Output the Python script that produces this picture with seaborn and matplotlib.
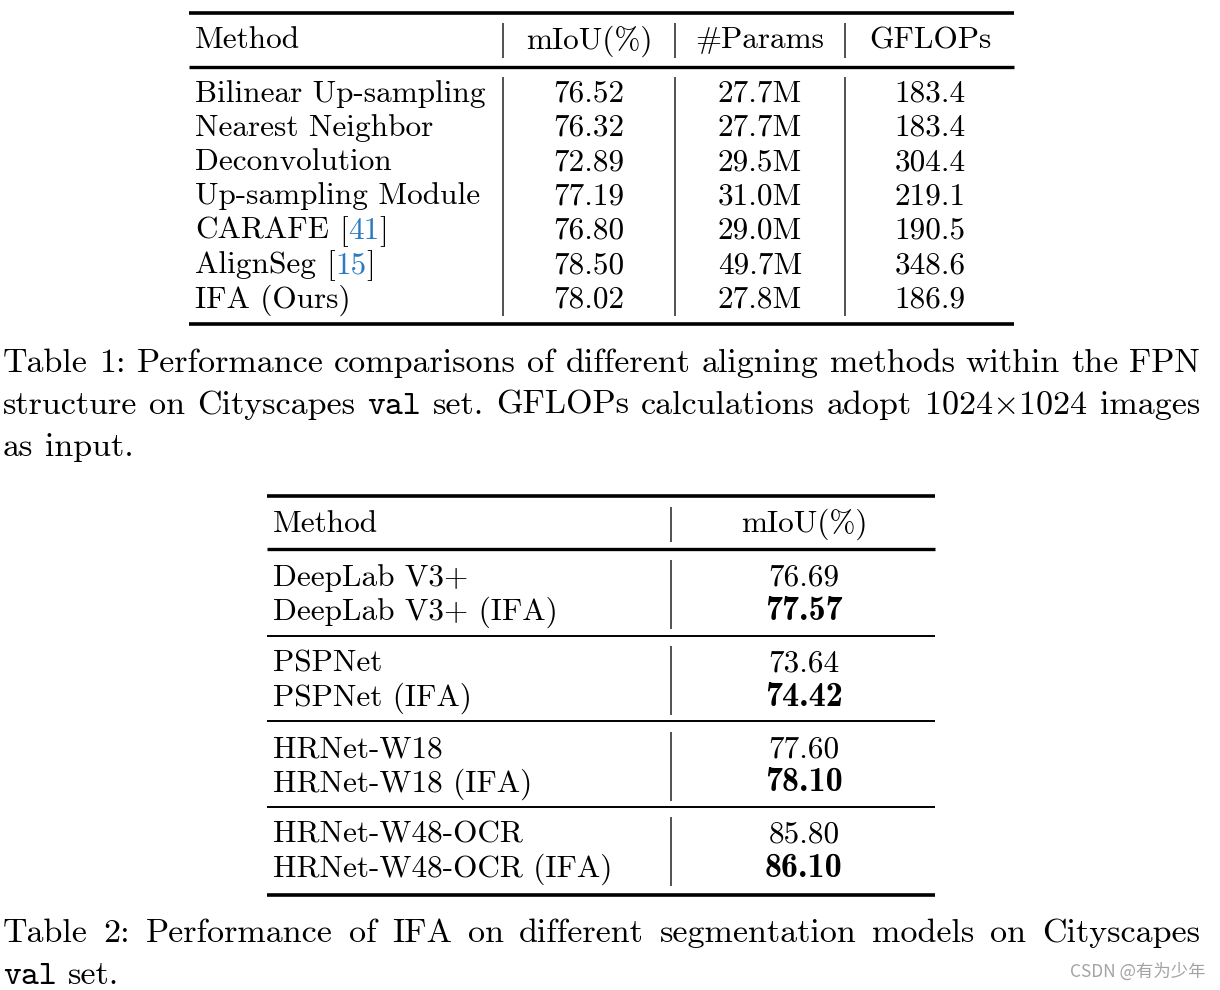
import matplotlib
matplotlib.use('Agg')
import matplotlib.pyplot as plt
import seaborn as sns

# Tabela 1: métodos de alinhamento dentro da FPN
metodos1 = ['Bilinear Up-sampling', 'Nearest Neighbor', 'Deconvolution',
            'Up-sampling Module', 'CARAFE', 'AlignSeg', 'IFA (Ours)']
citacoes1 = [None, None, None, None, '41', '15', None]
miou1 = [76.52, 76.32, 72.89, 77.19, 76.80, 78.50, 78.02]
params1 = [27.7, 27.7, 29.5, 31.0, 29.0, 49.7, 27.8]
gflops1 = [183.4, 183.4, 304.4, 219.1, 190.5, 348.6, 186.9]
cabecalho1 = ['Method', 'mIoU(%)', '#Params', 'GFLOPs']

# Tabela 2: IFA em diferentes modelos
modelos2 = ['DeepLab V3+', 'PSPNet', 'HRNet-W18', 'HRNet-W48-OCR']
base2 = [76.69, 73.64, 77.60, 85.80]
ifa2 = [77.57, 74.42, 78.10, 86.10]
cabecalho2 = ['Method', 'mIoU(%)']

legenda1 = [
    ['Table', '1:', 'Performance', 'comparisons', 'of', 'different', 'aligning',
     'methods', 'within', 'the', 'FPN'],
    ['structure', 'on', 'Cityscapes', ('val', 'cmtt10'), 'set.', 'GFLOPs',
     'calculations', 'adopt', r'1024$\times$1024', 'images'],
    ['as', 'input.'],
]
legenda2 = [
    ['Table', '2:', 'Performance', 'of', 'IFA', 'on', 'different',
     'segmentation', 'models', 'on', 'Cityscapes'],
    [('val', 'cmtt10'), 'set.'],
]

sns.set_theme(style='white')
plt.rcParams['font.family'] = ['cmr10']
plt.rcParams['mathtext.fontset'] = 'cm'
plt.rcParams['axes.unicode_minus'] = False

TAM = 22.5      # tamanho do texto das tabelas
TAM_NEG = 24.5  # números em negrito
TAM_LEG = 24.5  # tamanho das legendas
AZUL = '#2a7bc0'

fig = plt.figure(figsize=(12.2, 9.9), dpi=100)
ax = fig.add_axes([0, 0, 1, 1])
ax.set_xlim(0, 1220)
ax.set_ylim(990, 0)
ax.axis('off')
renderer = fig.canvas.get_renderer()


def largura(t):
    return t.get_window_extent(renderer).width


def texto(x, y, s, **kw):
    kw.setdefault('size', TAM)
    kw.setdefault('va', 'baseline')
    return ax.text(x, y, s, color=kw.pop('color', 'black'), **kw)


def sequencia(x, y, partes, espaco):
    # coloca pedaços de texto um após o outro
    for s, cor in partes:
        if s == ' ':
            x += espaco
            continue
        t = texto(x, y, s, color=cor)
        x += largura(t)


def linha_leg(palavras, y, x0=3, x1=None):
    arts = []
    for p in palavras:
        s, fam = p if isinstance(p, tuple) else (p, 'cmr10')
        arts.append(texto(0, y, s, family=fam, size=TAM_LEG))
    ws = [largura(a) for a in arts]
    if x1 is None:
        gap = 0.333 * TAM_LEG / 72 * 100
    else:
        gap = (x1 - x0 - sum(ws)) / (len(arts) - 1)
    x = x0
    for a, w in zip(arts, ws):
        a.set_x(x)
        x += w + gap


def regra(y, x0, x1, lw):
    ax.hlines(y, x0, x1, color='black', lw=lw)


def vert(x, y0, y1):
    ax.vlines(x, y0, y1, color='#222222', lw=1.1)


# ---------- Tabela 1 ----------
T1_X0, T1_X1 = 189, 1014
col1 = [195, 589, 760, 930]
seps1 = [503, 675, 845]
regra(12.5, T1_X0, T1_X1, 2.6)
regra(67, T1_X0, T1_X1, 2.4)
regra(324, T1_X0, T1_X1, 2.6)
for xs in seps1:
    vert(xs, 23, 58)
    vert(xs, 77, 316)

texto(col1[0], 48.5, cabecalho1[0])
for c, h in zip(col1[1:], cabecalho1[1:]):
    texto(c, 48.5, h, ha='center')

passo1 = 34.3
for i, m in enumerate(metodos1):
    yb = 101.5 + i * passo1
    if citacoes1[i]:
        sequencia(col1[0], yb, [(m, 'black'), (' ', None), ('[', 'black'),
                                (citacoes1[i], AZUL), (']', 'black')], 10.4)
    else:
        texto(col1[0], yb, m)
    texto(col1[1], yb, f'{miou1[i]:.2f}', ha='center')
    texto(col1[2], yb, f'{params1[i]:.1f}M', ha='center')
    texto(col1[3], yb, f'{gflops1[i]:.1f}', ha='center')

# ---------- Legenda 1 ----------
for k, pal in enumerate(legenda1):
    linha_leg(pal, 372 + k * 42, x1=1200 if k < 2 else None)

# ---------- Tabela 2 ----------
T2_X0, T2_X1 = 267, 935
col2 = [273, 804]
sep2 = 671
regra(495.5, T2_X0, T2_X1, 2.6)
regra(548.5, T2_X0, T2_X1, 2.4)
regra(894.5, T2_X0, T2_X1, 2.6)
vert(sep2, 507, 542)

texto(col2[0], 531.5, cabecalho2[0])
texto(col2[1], 531.5, cabecalho2[1], ha='center')

passo_grupo = 85.8
for g, m in enumerate(modelos2):
    y0 = 585.5 + g * passo_grupo
    texto(col2[0], y0, m)
    texto(col2[0], y0 + 34.3, m + ' (IFA)')
    texto(col2[1], y0, f'{base2[g]:.2f}', ha='center')
    texto(col2[1], y0 + 34.3, f'{ifa2[g]:.2f}', ha='center',
          family='cmb10', size=TAM_NEG)
    vert(sep2, y0 - 25.5, y0 + 43.5)
    if g < len(modelos2) - 1:
        regra(y0 + 50, T2_X0, T2_X1, 1.4)

# ---------- Legenda 2 ----------
for k, pal in enumerate(legenda2):
    linha_leg(pal, 942 + k * 42, x1=1200 if k < 1 else None)

ax.text(1205, 972, 'CSDN @有为少年', ha='right', va='center',
        family=['Noto Sans CJK SC', 'DejaVu Sans'], color='#a3a3a3', size=12.5)

fig.savefig('out.png', dpi=100, facecolor='white')
